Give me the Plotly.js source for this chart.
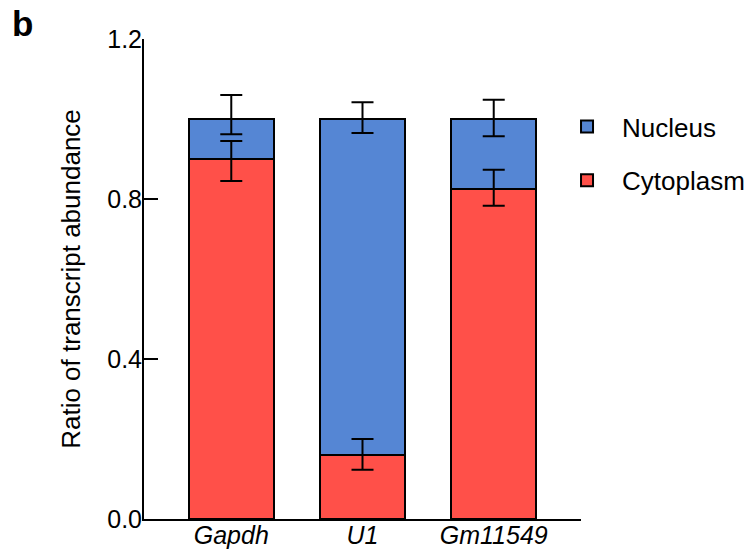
<!DOCTYPE html>
<html>
<head>
<meta charset="utf-8">
<script src="https://cdn.plot.ly/plotly-3.0.1.min.js"></script>
<style>html,body{margin:0;padding:0;background:#fff;}#chart{width:748px;height:550px;}</style>
</head>
<body>
<div id="chart"></div>
<script>
// Data
const genes = ["Gapdh", "U1", "Gm11549"];
const cytoplasm = [0.90, 0.16, 0.826];
const nucleus = [0.10, 0.84, 0.174];
const cytoErrPlus = [0.045, 0.04, 0.047];
const cytoErrMinus = [0.055, 0.037, 0.043];
const nucErrPlus = [0.06, 0.042, 0.048];
const nucErrMinus = [0.038, 0.035, 0.043];
const yTicks = [0, 0.4, 0.8, 1.2];
const yTickText = ["0.0", "0.4", "0.8", "1.2"];

const FONT = "Arial, 'Liberation Sans', Helvetica, sans-serif";
const BLUE = "#5586d4";
const RED = "#ff5049";
const barW = 0.647;

const stackTop = cytoplasm.map((c, i) => c + nucleus[i]);

const traces = [
  {
    type: "bar", name: "Cytoplasm", x: genes, y: cytoplasm, width: barW,
    marker: {color: RED, line: {color: "#000", width: 2}},
    legendgroup: "c", legendrank: 2, hoverinfo: "skip"
  },
  {
    type: "bar", name: "Nucleus", x: genes, y: nucleus, width: barW,
    marker: {color: BLUE, line: {color: "#000", width: 2}},
    legendgroup: "n", legendrank: 1, hoverinfo: "skip"
  },
  {
    type: "scatter", mode: "markers", x: genes, y: cytoplasm, showlegend: false,
    marker: {opacity: 0, size: 1}, hoverinfo: "skip",
    error_y: {type: "data", symmetric: false, array: cytoErrPlus, arrayminus: cytoErrMinus,
      color: "#000", thickness: 2, width: 11}
  },
  {
    type: "scatter", mode: "markers", x: genes, y: stackTop, showlegend: false,
    marker: {opacity: 0, size: 1}, hoverinfo: "skip",
    error_y: {type: "data", symmetric: false, array: nucErrPlus, arrayminus: nucErrMinus,
      color: "#000", thickness: 2, width: 11}
  }
];

const layout = {
  width: 748, height: 550,
  margin: {l: 144, r: 167, t: 39, b: 31, pad: 0, autoexpand: false},
  paper_bgcolor: "#fff", plot_bgcolor: "#fff",
  barmode: "stack",
  font: {family: FONT, color: "#000", size: 25},
  showlegend: true,
  legend: {
    xref: "container", yref: "container",
    x: 0.738, y: 0.8127, xanchor: "left", yanchor: "top",
    traceorder: "grouped", tracegroupgap: 17,
    itemwidth: 60,
    font: {family: FONT, size: 26, color: "#000"},
    bgcolor: "rgba(0,0,0,0)"
  },
  xaxis: {
    type: "category", range: [-0.665, 2.665],
    showline: true, linecolor: "#000", linewidth: 2,
    ticks: "", showgrid: false, zeroline: false,
    ticklabelstandoff: -7,
    tickfont: {family: FONT, size: 25, color: "#000", style: "italic"}
  },
  yaxis: {
    range: [0, 1.2], tickvals: yTicks, ticktext: yTickText,
    showline: true, linecolor: "#000", linewidth: 2,
    ticks: "inside", ticklen: 14, tickwidth: 2, tickcolor: "#000",
    showgrid: false, zeroline: false,
    ticklabelstandoff: -5,
    tickfont: {family: FONT, size: 25, color: "#000"},
    title: {text: "Ratio of transcript abundance", font: {family: FONT, size: 26, color: "#000"}, standoff: 19}
  },
  annotations: [{
    text: "<b>b</b>", xref: "paper", yref: "paper",
    x: -0.307, y: 1.078, xanchor: "left", yanchor: "top",
    showarrow: false, font: {family: FONT, size: 35, color: "#000"}
  }]
};

Plotly.newPlot("chart", traces, layout, {displayModeBar: false, staticPlot: true});
</script>
</body>
</html>
